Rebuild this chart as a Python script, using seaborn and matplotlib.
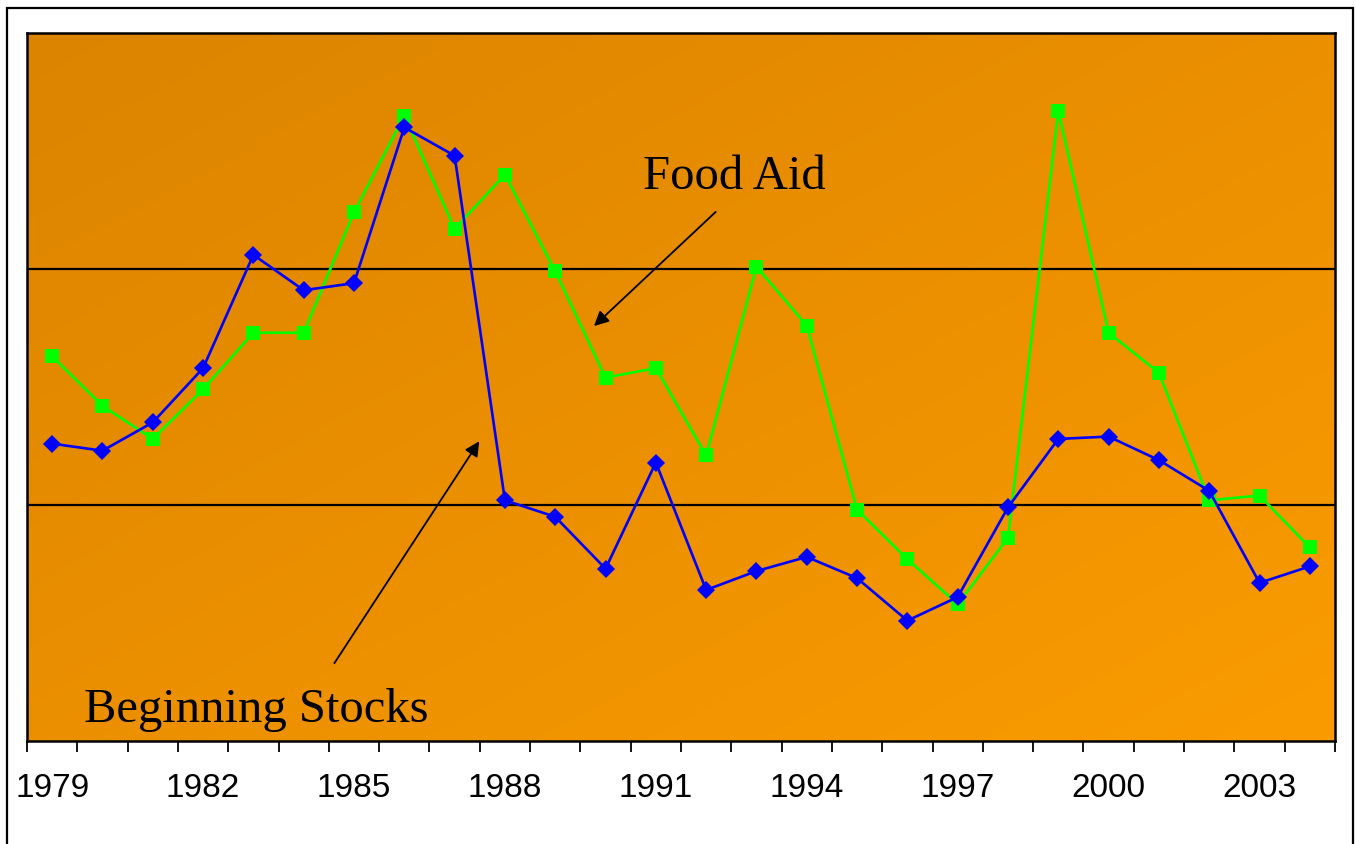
import numpy as np
import pandas as pd
import matplotlib.pyplot as plt
import seaborn as sns
from matplotlib.patches import Rectangle
from matplotlib.colors import LinearSegmentedColormap

years = list(range(1979, 2005))
beginning_stocks = [1.26, 1.23, 1.35, 1.58, 2.06, 1.91, 1.94, 2.60, 2.48, 1.02,
                    0.95, 0.73, 1.18, 0.64, 0.72, 0.78, 0.69, 0.51, 0.61, 0.99,
                    1.28, 1.29, 1.19, 1.06, 0.67, 0.74]
food_aid = [1.63, 1.42, 1.28, 1.49, 1.73, 1.73, 2.24, 2.65, 2.17, 2.40,
            1.99, 1.54, 1.58, 1.21, 2.01, 1.76, 0.98, 0.77, 0.58, 0.86,
            2.67, 1.73, 1.56, 1.02, 1.04, 0.82]
label_years = [1979, 1982, 1985, 1988, 1991, 1994, 1997, 2000, 2003]

df = pd.DataFrame({"year": years, "stocks": beginning_stocks, "aid": food_aid})

sns.set_style("white")
plt.rcParams["text.color"] = "black"
plt.rcParams["xtick.color"] = "black"
plt.rcParams["xtick.labelcolor"] = "black"

fig = plt.figure(figsize=(13.56, 8.44), dpi=100)
ax = fig.add_axes([27 / 1356, 1 - 741 / 844, (1335 - 27) / 1356, (741 - 33) / 844])

# orange gradient background, dark top-left to bright bottom-right
cmap = LinearSegmentedColormap.from_list("bg", ["#DC8400", "#FA9B00"])
rows, cols = np.mgrid[0:1:200j, 0:1:200j]
ax.imshow((rows + cols) / 2, cmap=cmap, extent=(0, 1, 0, 1), transform=ax.transAxes,
          aspect="auto", origin="upper", zorder=0, vmin=0, vmax=1)

for level in [1, 2]:
    ax.axhline(level, color="black", lw=1.6, zorder=1)

sns.lineplot(data=df, x="year", y="aid", ax=ax, color="#00FF00", lw=1.9,
             marker="s", markersize=10, markeredgewidth=0, zorder=3)
sns.lineplot(data=df, x="year", y="stocks", ax=ax, color="#0000FF", lw=1.9,
             marker="D", markersize=9.5, markeredgewidth=0, zorder=4)

ax.set_xlim(1978.5, 2004.5)
ax.set_ylim(0, 3)
ax.set_xlabel("")
ax.set_ylabel("")
ax.set_yticks([])

ax.set_xticks(np.arange(1978.5, 2005, 1))
ax.set_xticklabels([])
ax.set_xticks(label_years, minor=True)
ax.set_xticklabels([str(y) for y in label_years], minor=True,
                   family="Liberation Sans", fontsize=24, color="black")
ax.tick_params(axis="x", which="major", bottom=True, length=8, width=1.3, color="black")
ax.tick_params(axis="x", which="minor", bottom=True, length=0, pad=23)

for spine in ax.spines.values():
    spine.set_visible(True)
    spine.set_color("black")
    spine.set_linewidth(1.8)

ax.text(1992.57, 2.39, "Food Aid", family="Liberation Serif", fontsize=35,
        color="black", ha="center", va="center", zorder=5)
ax.text(1983.05, 0.13, "Beginning Stocks", family="Liberation Serif", fontsize=35,
        color="black", ha="center", va="center", zorder=5)
ax.annotate("", xy=(1989.73, 1.75), xytext=(1992.23, 2.25),
            arrowprops=dict(arrowstyle="-|>", color="black", lw=1.3, mutation_scale=22), zorder=5)
ax.annotate("", xy=(1987.52, 1.28), xytext=(1984.58, 0.32),
            arrowprops=dict(arrowstyle="-|>", color="black", lw=1.3, mutation_scale=22), zorder=5)

# outer frame, bottom edge runs off the image
fig.patches.append(Rectangle((7 / 1356, -0.05), (1353 - 7) / 1356, 1.05 - 8 / 844,
                             transform=fig.transFigure, fill=False, edgecolor="black", lw=1.6))

plt.savefig("out.png", dpi=100)
